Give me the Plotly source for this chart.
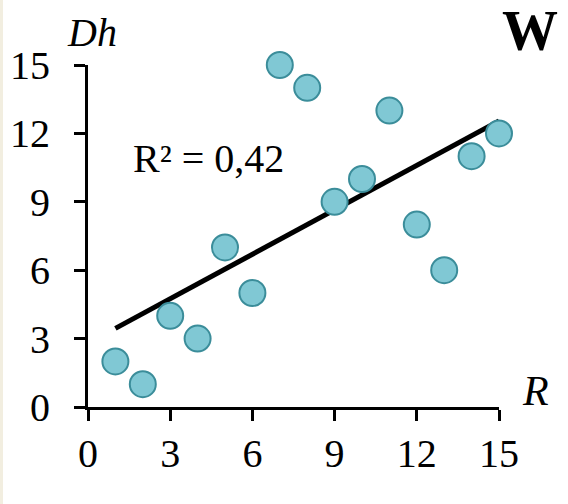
import numpy as np
import plotly.graph_objects as go

R_vals = [1, 2, 3, 4, 5, 6, 7, 8, 9, 10, 11, 12, 13, 14, 15]
Dh_vals = [2, 1, 4, 3, 7, 5, 15, 14, 9, 10, 13, 8, 6, 11, 12]
tick_vals = [0, 3, 6, 9, 12, 15]

slope, intercept = np.polyfit(R_vals, Dh_vals, 1)
trend_x = [min(R_vals), max(R_vals)]
trend_y = [slope * x + intercept for x in trend_x]

W, H = 568, 504
L, Rm, T, B = 88, 69, 65, 97
pw, ph = W - L - Rm, H - T - B

def px(x):
    return (x - L) / pw

def py(y):
    return (H - B - y) / ph

FONT = "Liberation Serif"

fig = go.Figure()
fig.add_trace(go.Scatter(x=trend_x, y=trend_y, mode="lines",
                         line=dict(color="black", width=5), cliponaxis=False,
                         hoverinfo="skip", showlegend=False))
fig.add_trace(go.Scatter(x=R_vals, y=Dh_vals, mode="markers", cliponaxis=False,
                         marker=dict(size=26, color="#80c8d4",
                                     line=dict(color="#3b8d9a", width=2)),
                         showlegend=False))

axis_common = dict(range=[0, 15], tickvals=tick_vals, showline=True, linecolor="black",
                   linewidth=3, ticks="outside", ticklen=11, tickwidth=3, tickcolor="black",
                   showgrid=False, zeroline=False, automargin=False,
                   tickfont=dict(family=FONT, size=40, color="black"))

fig.update_layout(
    width=W, height=H,
    margin=dict(l=L, r=Rm, t=T, b=B),
    paper_bgcolor="white", plot_bgcolor="white",
    xaxis=dict(**axis_common, ticklabelposition="outside", ticklabelstandoff=-2),
    yaxis=dict(**axis_common, ticklabelposition="outside", ticklabelstandoff=16),
    font=dict(family=FONT, color="black"),
    shapes=[dict(type="rect", xref="paper", yref="paper",
                 x0=px(0), x1=px(3), y0=py(H), y1=py(0),
                 fillcolor="#f2eee0", line=dict(width=0), layer="below")],
    annotations=[
        dict(text="<i>Dh</i>", xref="paper", yref="paper", x=px(65), y=py(57),
             xanchor="left", yanchor="bottom", showarrow=False,
             font=dict(family=FONT, size=40)),
        dict(text="<b>W</b>", xref="paper", yref="paper", x=px(560), y=py(64),
             xanchor="right", yanchor="bottom", showarrow=False,
             font=dict(family=FONT, size=56)),
        dict(text="<i>R</i>", xref="paper", yref="paper", x=px(520), y=py(416),
             xanchor="left", yanchor="bottom", showarrow=False,
             font=dict(family=FONT, size=42)),
        dict(text="R² = 0,42", xref="paper", yref="paper", x=px(131), y=py(158),
             xanchor="left", yanchor="middle", showarrow=False,
             font=dict(family=FONT, size=40)),
    ],
)

fig.write_html("out.html")
